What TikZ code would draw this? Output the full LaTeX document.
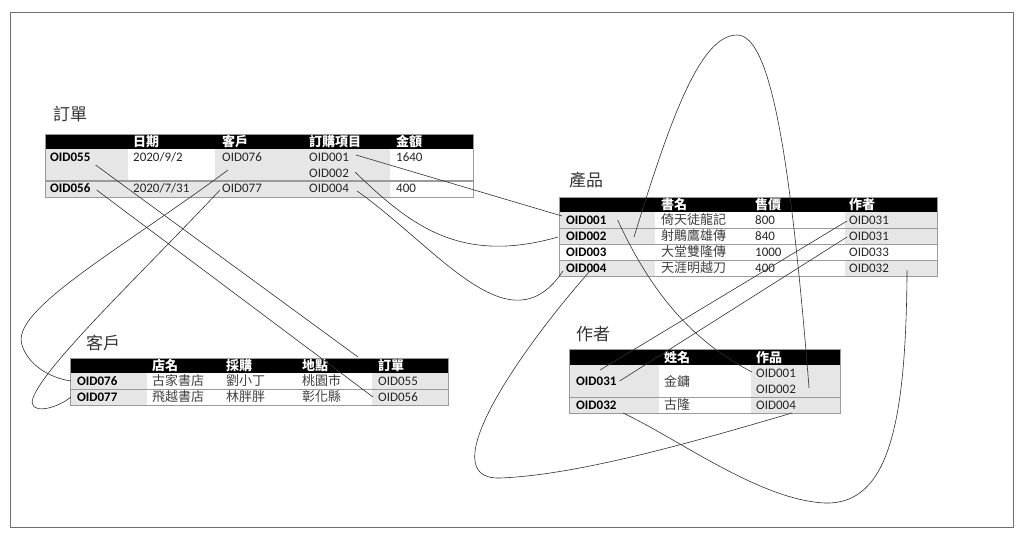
\documentclass[tikz,border=0pt]{standalone}
\usepackage{fontspec}
\setmainfont{Carlito}
\newfontfamily\cjk{Noto Sans CJK TC}
\usetikzlibrary{calc}
\definecolor{cellgray}{HTML}{E6E6E6}
\definecolor{rulegray}{HTML}{9A9A9A}
\definecolor{framegray}{HTML}{6E6E6E}
\definecolor{linkc}{HTML}{303030}
\tikzset{
 txt/.style={anchor=west, inner sep=0pt, text height=9pt, text depth=1pt, font=\fontsize{13}{15}\selectfont, text=black!85},
 idtxt/.style={txt, font=\fontsize{13}{15}\selectfont\bfseries, text=black},
 cjktxt/.style={anchor=west, inner sep=0pt, text height=10pt, text depth=1pt, font=\fontsize{13}{15}\selectfont\cjk, text=black!75},
 hdr/.style={anchor=west, inner sep=0pt, text height=10pt, text depth=1pt, font=\fontsize{13}{15}\selectfont\cjk\bfseries, text=white},
 ttl/.style={anchor=west, inner sep=0pt, font=\fontsize{17}{19}\selectfont\cjk, text=black!80},
 hbar/.style={fill=black},
 gcell/.style={fill=cellgray},
 tborder/.style={draw=rulegray, line width=0.8pt},
 rowrule/.style={draw=rulegray, line width=0.8pt},
 link/.style={draw=linkc, line width=0.6pt},
}
\begin{document}
\begin{tikzpicture}[x=1pt,y=-1pt]
\useasboundingbox (0,0) rectangle (1024,540);
\draw[framegray, line width=0.8pt] (10,12) rectangle (1013,527);

% ---------- 訂單 ----------
\node[ttl] (t1) at (53,114) {訂單};
\fill[gcell] (45,149) rectangle (128,197);
\fill[gcell] (215,149) rectangle (390,197);
\fill[gcell] (128,181) rectangle (215,197);
\fill[hbar] (45,134) rectangle (473,149);
\draw[rulegray, line width=1.5pt] (45,181) -- (473,181);
\draw[tborder] (45,134) rectangle (473,197);
\node[hdr] (t1h2) at (133,142) {日期};
\node[hdr] (t1h3) at (222,142) {客戶};
\node[hdr] (t1h4) at (309,142) {訂購項目};
\node[hdr] (t1h5) at (396,142) {金額};
\node[idtxt] (o55) at (50,157) {OID055};
\node[txt] (d1) at (133,157) {2020/9/2};
\node[txt] (c1) at (222,157) {OID076};
\node[txt] (i1) at (309,157) {OID001};
\node[txt] (i2) at (309,173) {OID002};
\node[txt] (a1) at (396,157) {1640};
\node[idtxt] (o56) at (50,189) {OID056};
\node[txt] (d2) at (133,189) {2020/7/31};
\node[txt] (c2) at (222,189) {OID077};
\node[txt] (i3) at (309,189) {OID004};
\node[txt] (a2) at (396,189) {400};

% ---------- 產品 ----------
\node[ttl] (t2) at (569,180) {產品};
\fill[gcell] (559,212) rectangle (655,244);
\fill[gcell] (559,260) rectangle (655,276);
\fill[gcell] (845,212) rectangle (937,244);
\fill[gcell] (845,260) rectangle (937,276);
\fill[hbar] (559,197) rectangle (937,212);
\foreach \yy in {228,244,260} \draw[rowrule] (559,\yy) -- (937,\yy);
\draw[tborder] (559,197) rectangle (937,276);
\node[hdr] (t2h2) at (661,205) {書名};
\node[hdr] (t2h3) at (755,205) {售價};
\node[hdr] (t2h4) at (849,205) {作者};
\node[idtxt] (p1) at (566,220) {OID001};
\node[idtxt] (p2) at (566,236) {OID002};
\node[idtxt] (p3) at (566,252) {OID003};
\node[idtxt] (p4) at (566,268) {OID004};
\node[cjktxt] (pn1) at (661,220) {倚天徒龍記};
\node[cjktxt] (pn2) at (661,236) {射鵰鷹雄傳};
\node[cjktxt] (pn3) at (661,252) {大堂雙隆傳};
\node[cjktxt] (pn4) at (661,268) {天涯明越刀};
\node[txt] (pp1) at (755,220) {800};
\node[txt] (pp2) at (755,236) {840};
\node[txt] (pp3) at (755,252) {1000};
\node[txt] (pp4) at (755,268) {400};
\node[txt] (pa1) at (849,220) {OID031};
\node[txt] (pa2) at (849,236) {OID031};
\node[txt] (pa3) at (849,252) {OID033};
\node[txt] (pa4) at (849,268) {OID032};

% ---------- 客戶 ----------
\node[ttl] (t3) at (86,343) {客戶};
\fill[gcell] (70,373) rectangle (147,405);
\fill[gcell] (372,373) rectangle (448,405);
\fill[hbar] (70,358) rectangle (448,373);
\draw[rowrule] (70,389) -- (448,389);
\draw[tborder] (70,358) rectangle (448,405);
\node[hdr] (t3h2) at (152,366) {店名};
\node[hdr] (t3h3) at (226,366) {採購};
\node[hdr] (t3h4) at (302,366) {地點};
\node[hdr] (t3h5) at (378,366) {訂單};
\node[idtxt] (k76) at (77,381) {OID076};
\node[cjktxt] (ks1) at (152,381) {古家書店};
\node[cjktxt] (kb1) at (226,381) {劉小丁};
\node[cjktxt] (kl1) at (302,381) {桃園市};
\node[txt] (ko1) at (378,381) {OID055};
\node[idtxt] (k77) at (77,397) {OID077};
\node[cjktxt] (ks2) at (152,397) {飛越書店};
\node[cjktxt] (kb2) at (226,397) {林胖胖};
\node[cjktxt] (kl2) at (302,397) {彰化縣};
\node[txt] (ko2) at (378,397) {OID056};

% ---------- 作者 ----------
\node[ttl] (t4) at (576,334) {作者};
\fill[gcell] (569,365) rectangle (659,413);
\fill[gcell] (751,365) rectangle (840,413);
\fill[hbar] (569,349) rectangle (840,365);
\draw[rowrule] (569,397) -- (840,397);
\draw[tborder] (569,349) rectangle (840,413);
\node[hdr] (t4h2) at (664,357.5) {姓名};
\node[hdr] (t4h3) at (756,357.5) {作品};
\node[idtxt] (w31) at (576,381) {OID031};
\node[cjktxt] (wn1) at (664,382) {金鏞};
\node[txt] (wb1) at (756,373) {OID001};
\node[txt] (wb2) at (756,389) {OID002};
\node[idtxt] (w32) at (576,405) {OID032};
\node[cjktxt] (wn2) at (664,405) {古隆};
\node[txt] (wb3) at (756,405) {OID004};

% ---------- connectors ----------
\coordinate (aEnd) at ($(ko1.west)+(-20,-24)$);
\draw[link] ($(o55.east)+(5,8)$) -- (aEnd);
\draw[link] ($(o56.east)+(6,1)$) -- ($(ko2.west)+(-5,0)$);
\draw[link] ($(c1.west)+(6,13)$) .. controls (120,250) and (10,310) .. (22,345)
  .. controls (28,365) and (50,378) .. ($(k76.west)+(-6,0)$);
\draw[link] ($(c2.west)+(-2,1)$) .. controls (140,275) and (45,365) .. (33,398)
  .. controls (27,415) and (55,410) .. ($(k77.west)+(-6,0)$);
\draw[link] ($(i1.east)+(7,-2)$) -- ($(p1.west)+(-4,-4)$);
\draw[link] ($(i2.east)+(6,-1)$) .. controls (410,225) and (460,265) .. ($(p2.west)+(-8,1)$);
\draw[link] ($(i3.east)+(8,2)$) .. controls (440,250) and (510,350) .. ($(p4.west)+(-3,3)$);
\draw[link] ($(p4.west)+(24,3)$) .. controls (520,350) and (430,480) .. (500,478)
  .. controls (580,475) and (700,440) .. ($(wb3.west)+(36,8)$);
\draw[link] ($(p1.east)+(11,0)$) .. controls (650,290) and (690,340) .. ($(wb1.west)+(-4,-1)$);
\draw[link] ($(pn2.west)+(-27,1)$) .. controls (670,120) and (700,35) .. (737,35)
  .. controls (770,35) and (790,150) .. ($(wb2.east)+(13,-1)$);
\draw[link] ($(pa1.west)+(-2,1)$) -- ($(w31.west)+(24,-11)$);
\draw[link] ($(pa2.west)+(-2,1)$) -- ($(w31.east)+(3,0)$);
\draw[link] ($(pa4.east)+(18,2)$) .. controls (906,420) and (890,505) .. (825,503)
  .. controls (760,500) and (680,440) .. ($(w32.west)+(47,8)$);
\end{tikzpicture}
\end{document}
